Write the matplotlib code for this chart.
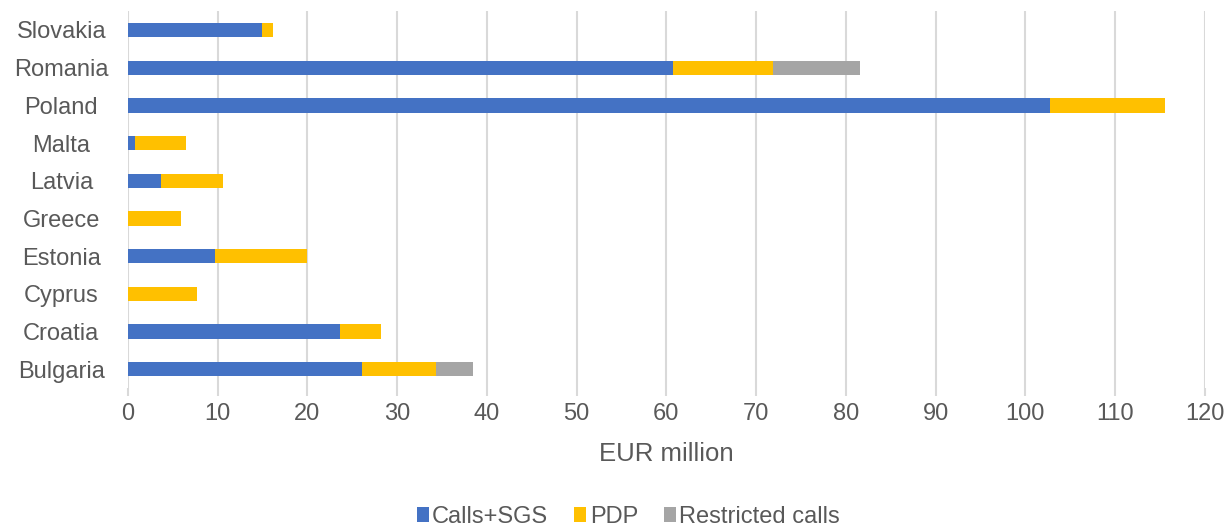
import matplotlib.pyplot as plt
import numpy as np

# data (EUR million)
countries = ["Bulgaria", "Croatia", "Cyprus", "Estonia", "Greece",
             "Latvia", "Malta", "Poland", "Romania", "Slovakia"]
calls_sgs = [26.1, 23.6, 0.0, 9.7, 0.0, 3.7, 0.8, 102.7, 60.7, 14.9]
pdp = [8.2, 4.6, 7.7, 10.3, 5.9, 6.9, 5.7, 12.9, 11.2, 1.3]
restricted = [4.1, 0.0, 0.0, 0.0, 0.0, 0.0, 0.0, 0.0, 9.7, 0.0]
x_ticks = list(range(0, 121, 10))

plt.rcParams['font.family'] = ['Liberation Sans', 'DejaVu Sans']
txt = '#595959'

fig = plt.figure(figsize=(12.25, 5.31), dpi=100)
ax = fig.add_axes([0.1045, 0.2693, 0.879, 0.7097])

y = np.arange(len(countries))
h = 0.38
calls_sgs = np.array(calls_sgs)
pdp = np.array(pdp)
restricted = np.array(restricted)

ax.barh(y, calls_sgs, height=h, color='#4472C4', label='Calls+SGS', zorder=3)
ax.barh(y, pdp, left=calls_sgs, height=h, color='#FFC000', label='PDP', zorder=3)
ax.barh(y, restricted, left=calls_sgs + pdp, height=h, color='#A5A5A5',
        label='Restricted calls', zorder=3)

ax.set_xlim(0, 120)
ax.set_ylim(-0.5, len(countries) - 0.5)
ax.set_xticks(x_ticks)
ax.set_yticks(y)
ax.set_yticklabels(countries)
ax.xaxis.grid(True, color='#d9d9d9', linewidth=1.5, zorder=0)
ax.tick_params(axis='x', length=6, width=1.5, color='#d9d9d9', labelsize=17,
               labelcolor=txt, pad=5)
ax.tick_params(axis='y', length=0, labelsize=17, labelcolor=txt, pad=48)
for lbl in ax.get_yticklabels():
    lbl.set_horizontalalignment('center')
for s in ax.spines.values():
    s.set_visible(False)

ax.set_xlabel('EUR million', fontsize=18.5, color=txt, labelpad=12)

handles, labels = ax.get_legend_handles_labels()
fig.legend(handles, labels, loc='center', bbox_to_anchor=(0.513, 0.027),
           ncol=3, frameon=False, fontsize=17, labelcolor=txt,
           handlelength=0.5, handleheight=0.6, handletextpad=0.15,
           columnspacing=1.1)

fig.savefig('out.png', dpi=100)
